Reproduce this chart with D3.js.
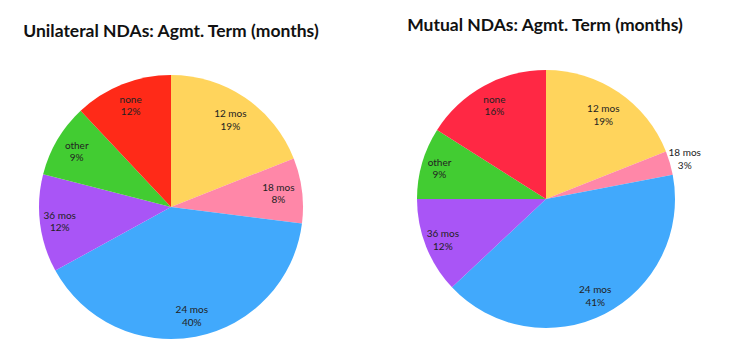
<!DOCTYPE html>
<html><head><meta charset="utf-8">
<script src="https://cdn.jsdelivr.net/npm/d3@7"></script>
<style>body{margin:0;background:#fff}svg{display:block}</style>
</head><body>
<script>
const categories = ["12 mos","18 mos","24 mos","36 mos","other","none"];
const unilateralValues = [19, 8, 40, 12, 9, 12];
const mutualValues = [19, 3, 41, 12, 9, 16];
const titles = ["Unilateral NDAs: Agmt. Term (months)", "Mutual NDAs: Agmt. Term (months)"];
const colorsLeft = ["#FFD45C","#FF87A8","#41A9FC","#A955F6","#42CC32","#FF2A18"];
const colorsRight = ["#FFD45C","#FF87A8","#41A9FC","#A955F6","#42CC32","#FF2844"];

const W = 729, H = 356;
const svg = d3.select("body").append("svg").attr("width", W).attr("height", H);

const charts = [
  {values: unilateralValues, colors: colorsLeft, title: titles[0], cx: 171, cy: 207, r: 132, tx: 171, ty: 37, labelR: [0.8,0.82,0.84,0.85,0.83,0.83]},
  {values: mutualValues, colors: colorsRight, title: titles[1], cx: 546, cy: 199, r: 129, tx: 545, ty: 31, labelR: [0.79,1.12,0.84,0.86,0.86,0.83]}
];

charts.forEach(c => {
  const g = svg.append("g").attr("transform", `translate(${c.cx},${c.cy})`);
  const pie = d3.pie().sort(null).value(d => d)(c.values);
  const arc = d3.arc().innerRadius(0).outerRadius(c.r);
  g.selectAll("path").data(pie).join("path")
    .attr("d", arc).attr("fill", (d,i) => c.colors[i]);
  const total = d3.sum(c.values);
  pie.forEach((d,i) => {
    const la = d3.arc().innerRadius(c.r*c.labelR[i]).outerRadius(c.r*c.labelR[i]);
    const [x,y] = la.centroid(d);
    const t = g.append("text").attr("text-anchor","middle")
      .attr("font-family","Lato, 'Open Sans', sans-serif").attr("font-size", 10)
      .attr("fill","#222");
    t.append("tspan").attr("x", x).attr("y", y - 2.5).text(categories[i]);
    t.append("tspan").attr("x", x).attr("y", y + 10).text(Math.round(d.value/total*100) + "%");
  });
  svg.append("text").attr("x", c.tx).attr("y", c.ty).attr("text-anchor","middle")
    .attr("font-family","Lato, 'Open Sans', sans-serif").attr("font-weight","bold")
    .attr("font-size", 17.5).attr("fill","#111").text(c.title);
});
</script>
</body></html>
